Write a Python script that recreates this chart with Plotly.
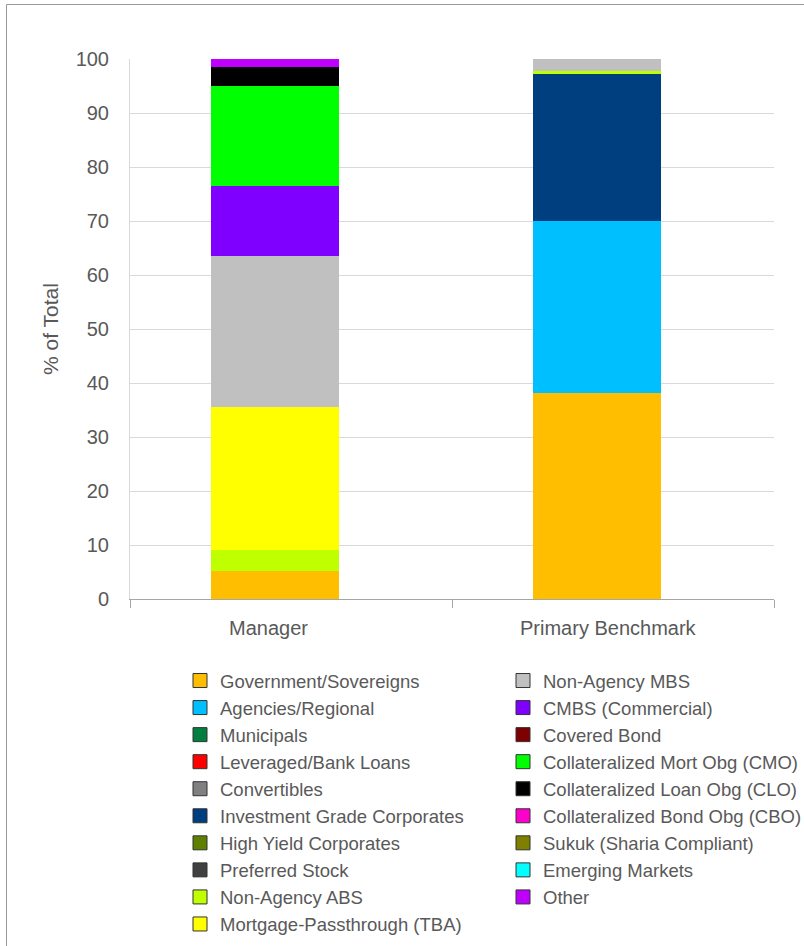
import plotly.graph_objects as go

categories = ["Manager", "Primary Benchmark"]

sectors = [
    "Government/Sovereigns", "Agencies/Regional", "Municipals", "Leveraged/Bank Loans",
    "Convertibles", "Investment Grade Corporates", "High Yield Corporates", "Preferred Stock",
    "Non-Agency ABS", "Mortgage-Passthrough (TBA)", "Non-Agency MBS", "CMBS (Commercial)",
    "Covered Bond", "Collateralized Mort Obg (CMO)", "Collateralized Loan Obg (CLO)",
    "Collateralized Bond Obg (CBO)", "Sukuk (Sharia Compliant)", "Emerging Markets", "Other",
]

manager = [5.1, 0, 0, 0, 0, 0, 0, 0, 4.0, 26.5, 28.0, 12.9, 0, 18.5, 3.6, 0, 0, 0, 1.4]
benchmark = [38.2, 31.8, 0, 0, 0, 27.3, 0, 0, 0.4, 0, 2.3, 0, 0, 0, 0, 0, 0, 0, 0]

colors = [
    "#FFBF00", "#00BFFF", "#007F3F", "#FF0000", "#808080", "#003F7F", "#5F7F00", "#404040",
    "#BFFF00", "#FFFF00", "#C0C0C0", "#7F00FF", "#7F0000", "#00FF00", "#000000",
    "#FF00CC", "#7F7F00", "#00FFFF", "#BF00FF",
]

y_ticks = [0, 10, 20, 30, 40, 50, 60, 70, 80, 90, 100]
y_title = "% of Total"

TXT = "#595959"
FONT = "Liberation Sans, Arial, sans-serif"

fig = go.Figure()

for name, m, b, c in zip(sectors, manager, benchmark, colors):
    fig.add_trace(go.Bar(
        x=categories, y=[m, b], name=name, marker=dict(color=c, line=dict(width=0)),
        width=0.4, offset=-0.25, showlegend=False,
    ))

for i, (name, c) in enumerate(zip(sectors, colors)):
    fig.add_trace(go.Scatter(
        x=[None], y=[None], mode="markers", name=name,
        marker=dict(symbol="square", size=14, color=c, line=dict(color="#333333", width=1)),
        legend="legend" if i < 10 else "legend2", legendgroup=name, showlegend=True,
    ))

W, H = 804, 946
ML, MT, PW, PH = 130, 59, 644, 540


def px_x(p):
    return (p - ML) / PW


def px_y(p):
    return (MT + PH - p) / PH


fig.update_layout(
    width=W, height=H,
    margin=dict(l=ML, r=W - ML - PW, t=MT, b=H - MT - PH, autoexpand=False),
    paper_bgcolor="white", plot_bgcolor="white",
    barmode="stack", bargap=0,
    font=dict(family=FONT, color=TXT, size=18),
    xaxis=dict(
        type="category", range=[-0.5, 1.5], tickson="boundaries", ticks="outside",
        ticklen=8, tickcolor="#A6A6A6", showticklabels=False, showline=True,
        linecolor="#A6A6A6", linewidth=1, showgrid=False, zeroline=False,
    ),
    yaxis=dict(
        range=[0, 100], tickvals=y_ticks, showgrid=True, gridcolor="#D9D9D9",
        showline=True, linecolor="#D9D9D9", zeroline=False, ticks="",
        ticklabelstandoff=16, tickfont=dict(size=20, color=TXT),
    ),
    legend=dict(xref="container", yref="container", x=180 / W, y=1 - 662 / H,
                xanchor="left", yanchor="top", orientation="v", tracegroupgap=0,
                font=dict(size=18.5, color=TXT), bgcolor="rgba(0,0,0,0)"),
    legend2=dict(xref="container", yref="container", x=503 / W, y=1 - 662 / H,
                 xanchor="left", yanchor="top", orientation="v", tracegroupgap=0,
                 font=dict(size=18.5, color=TXT), bgcolor="rgba(0,0,0,0)"),
    shapes=[
        dict(type="line", xref="paper", yref="paper", x0=px_x(6.5), x1=px_x(810),
             y0=px_y(4.5), y1=px_y(4.5), line=dict(color="#999999", width=1)),
        dict(type="line", xref="paper", yref="paper", x0=px_x(6.5), x1=px_x(6.5),
             y0=px_y(4.5), y1=px_y(960), line=dict(color="#999999", width=1)),
    ],
    annotations=[
        dict(x=categories[0], y=0, xref="x", yref="y", text=categories[0], showarrow=False,
             yanchor="top", yshift=-16, xshift=-23, font=dict(size=20, color=TXT)),
        dict(x=categories[1], y=0, xref="x", yref="y", text=categories[1], showarrow=False,
             yanchor="top", yshift=-16, xshift=-5, font=dict(size=20, color=TXT)),
        dict(x=px_x(50), y=0.5, xref="paper", yref="paper", text=y_title, showarrow=False,
             textangle=-90, xanchor="center", yanchor="middle", font=dict(size=21, color=TXT)),
    ],
)

fig.write_html("out.html", config={"displayModeBar": False},
               post_script="document.body.style.margin='0';")
